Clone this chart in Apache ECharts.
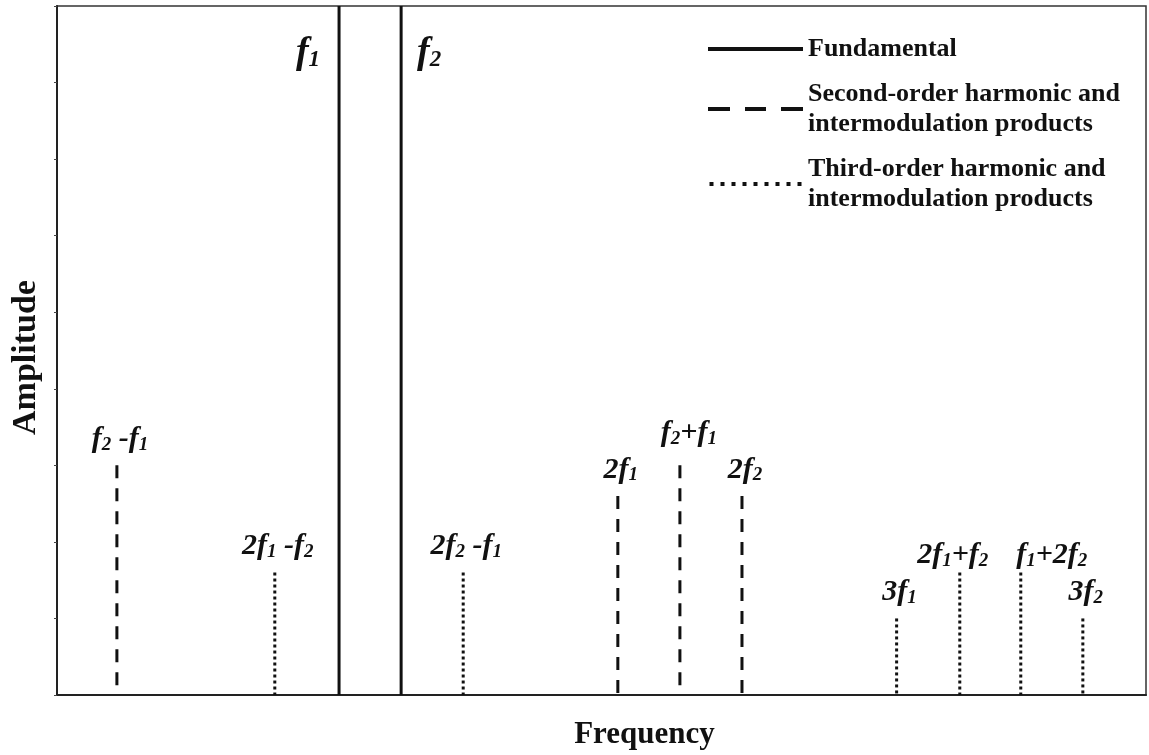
<!DOCTYPE html>
<html>
<head>
<meta charset="utf-8">
<script src="https://cdn.jsdelivr.net/npm/echarts@6/dist/echarts.min.js"></script>
<style>
  html, body { margin: 0; padding: 0; background: #fff; }
  #chart { width: 1149px; height: 755px; }
</style>
</head>
<body>
<div id="chart"></div>
<script>
// frequency axis runs 0..100 (arbitrary units), amplitude 0..9
const fundamentalNames = ['f1', 'f2'];
const fundamentalFreq = [25.9, 31.6];
const fundamentalAmp = [9, 9];

const secondNames = ['f2 -f1', '2f1', 'f2+f1', '2f2'];
const secondFreq = [5.5, 51.5, 57.2, 62.9];
const secondAmp = [3.0, 2.6, 3.0, 2.6];

const thirdNames = ['2f1 -f2', '2f2 -f1', '3f1', '2f1+f2', 'f1+2f2', '3f2'];
const thirdFreq = [20.0, 37.3, 77.1, 82.9, 88.5, 94.2];
const thirdAmp = [1.6, 1.6, 1.0, 1.6, 1.6, 1.0];

const legendNames = [
  'Fundamental',
  'Second-order harmonic and\nintermodulation products',
  'Third-order harmonic and\nintermodulation products'
];

const SERIF = '"Liberation Serif", "Times New Roman", serif';
const INK = '#111';

// labels that sit off-centre in the original so they do not collide
const labelNudge = {
  'f2+f1': [6, -6],
  '2f1+f2': [-10, 9],
  'f1+2f2': [28, 9]
};

function richLabel(name, big) {
  const m = big ? 'M' : 'm';
  const s = big ? 'S' : 's';
  let out = '';
  let buf = '';
  for (let i = 0; i < name.length; i++) {
    const ch = name[i];
    if (/\d/.test(ch) && name[i - 1] === 'f') {
      if (buf) { out += '{' + m + '|' + buf + '}'; buf = ''; }
      out += '{' + s + '|' + ch + '}';
    } else {
      buf += ch;
    }
  }
  if (buf) out += '{' + m + '|' + buf + '}';
  return out;
}

const rich = {
  m: { fontFamily: SERIF, fontSize: 30, fontStyle: 'italic', fontWeight: 'bold', fill: INK, verticalAlign: 'bottom' },
  s: { fontFamily: SERIF, fontSize: 19, fontStyle: 'italic', fontWeight: 'bold', fill: INK, verticalAlign: 'bottom' },
  M: { fontFamily: SERIF, fontSize: 38, fontStyle: 'italic', fontWeight: 'bold', fill: INK, verticalAlign: 'bottom' },
  S: { fontFamily: SERIF, fontSize: 23, fontStyle: 'italic', fontWeight: 'bold', fill: INK, verticalAlign: 'bottom' }
};

function stemRenderer(names, dash, width, fundamental) {
  return function (params, api) {
    const x = api.value(0);
    const h = api.value(1);
    const p0 = api.coord([x, 0]);
    const p1 = api.coord([x, h]);
    const name = names[params.dataIndex];
    let text;
    if (fundamental) {
      const left = params.dataIndex === 0;
      text = {
        type: 'text',
        x: p1[0] + (left ? -19 : 16),
        y: 72,
        style: { text: richLabel(name, true), rich: rich, align: left ? 'right' : 'left', verticalAlign: 'bottom' }
      };
    } else {
      const nudge = labelNudge[name] || [0, 0];
      text = {
        type: 'text',
        x: p1[0] + 3 + nudge[0],
        y: p1[1] - 11 + nudge[1],
        style: { text: richLabel(name, false), rich: rich, align: 'center', verticalAlign: 'bottom' }
      };
    }
    return {
      type: 'group',
      children: [
        {
          // drawn top-down so the dash pattern starts at the tip
          type: 'line',
          shape: { x1: p1[0], y1: p1[1], x2: p0[0], y2: p0[1] },
          style: { stroke: INK, lineWidth: width, lineDash: dash, lineCap: 'butt' }
        },
        text
      ]
    };
  };
}

function pairs(xs, ys) {
  return xs.map((x, i) => [x, ys[i]]);
}

const dotPath = 'path://' + [0, 11, 22, 33, 44, 55, 66, 77, 88]
  .map(x => 'M' + x + ',0h4v4h-4z').join(' ');

const chart = echarts.init(document.getElementById('chart'), null, { renderer: 'canvas' });
chart.setOption({
  animation: false,
  backgroundColor: '#fff',
  color: [INK],
  grid: {
    left: 57, right: 3, top: 6, bottom: 59,
    show: true, borderColor: '#333', borderWidth: 1.5, backgroundColor: 'transparent'
  },
  legend: {
    orient: 'vertical',
    left: 703,
    top: 29,
    itemWidth: 95,
    itemHeight: 4,
    itemGap: 15,
    selectedMode: false,
    textStyle: {
      fontFamily: SERIF, fontWeight: 'bold', fontSize: 26, lineHeight: 30,
      color: INK
    },
    data: [
      { name: legendNames[0], icon: 'path://M0,0H95V4H0Z' },
      { name: legendNames[1], icon: 'path://M0,0H22V4H0Z M37,0H58V4H37Z M73,0H95V4H73Z' },
      { name: legendNames[2], icon: dotPath }
    ]
  },
  xAxis: {
    type: 'value',
    min: 0,
    max: 100,
    name: 'Frequency',
    nameLocation: 'middle',
    nameGap: 24,
    nameTextStyle: { fontFamily: SERIF, fontWeight: 'bold', fontSize: 31, color: INK, padding: [0, 0, 0, 86] },
    axisLine: { show: true, lineStyle: { color: '#222', width: 2 } },
    axisTick: { show: false },
    axisLabel: { show: false },
    splitLine: { show: false }
  },
  yAxis: {
    type: 'value',
    min: 0,
    max: 9,
    interval: 1,
    name: 'Amplitude',
    nameLocation: 'middle',
    nameGap: 14,
    nameTextStyle: { fontFamily: SERIF, fontWeight: 'bold', fontSize: 34, color: INK, padding: [0, 14, 0, 0] },
    axisLine: { show: true, lineStyle: { color: '#222', width: 2 } },
    axisTick: { show: true, length: 3, lineStyle: { color: '#444', width: 1 } },
    axisLabel: { show: false },
    splitLine: { show: false }
  },
  series: [
    {
      type: 'custom',
      name: legendNames[0],
      itemStyle: { color: INK },
      renderItem: stemRenderer(fundamentalNames, null, 3, true),
      data: pairs(fundamentalFreq, fundamentalAmp)
    },
    {
      type: 'custom',
      name: legendNames[1],
      itemStyle: { color: INK },
      renderItem: stemRenderer(secondNames, [13, 10], 3, false),
      data: pairs(secondFreq, secondAmp)
    },
    {
      type: 'custom',
      name: legendNames[2],
      itemStyle: { color: INK },
      renderItem: stemRenderer(thirdNames, [3, 3], 3, false),
      data: pairs(thirdFreq, thirdAmp)
    }
  ]
});
</script>
</body>
</html>
